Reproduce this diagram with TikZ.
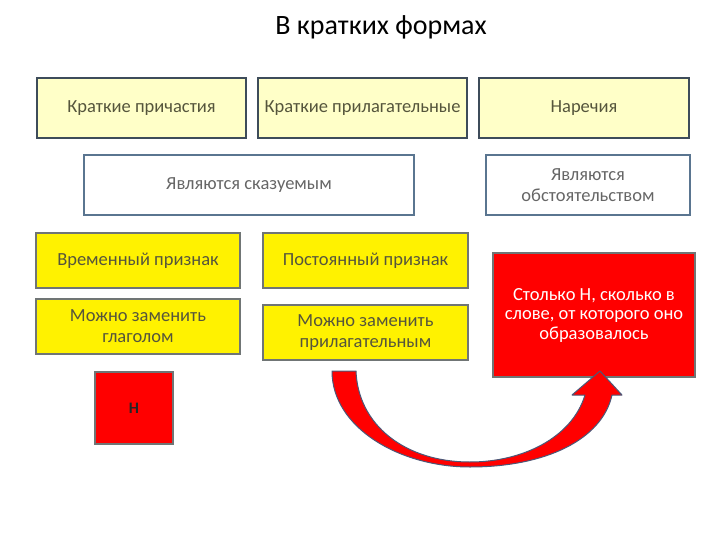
\documentclass[tikz,border=0pt]{standalone}
\usepackage{fontspec}
\setmainfont{Carlito}
\definecolor{lightyel}{HTML}{FFFFC8}
\definecolor{topedge}{HTML}{3E4C5A}
\definecolor{blueedge}{HTML}{5A7590}
\definecolor{grayedge}{HTML}{707575}
\definecolor{txtolive}{HTML}{55553C}
\definecolor{txtgray}{HTML}{666666}
\definecolor{arrowedge}{HTML}{4A5878}
\tikzset{
  topbox/.style={draw=topedge, line width=2.5pt, fill=lightyel, text=txtolive, align=center, inner sep=0pt, font=\fontsize{18.5}{21}\selectfont},
  whitebox/.style={draw=blueedge, line width=2pt, fill=white, text=txtgray, align=center, inner sep=0pt, font=\fontsize{18.5}{21}\selectfont},
  yelbox/.style={draw=grayedge, line width=2.5pt, fill=yellow, text=txtolive, align=center, inner sep=0pt, font=\fontsize{18.5}{21}\selectfont},
  redbox/.style={draw=grayedge, line width=1.5pt, fill=red, align=center, inner sep=0pt, font=\fontsize{18.5}{19.5}\selectfont},
}
\begin{document}
\begin{tikzpicture}[x=1pt,y=-1pt]
\useasboundingbox (0,0) rectangle (720,540);
\node[font=\fontsize{28}{32}\selectfont] (title) at (381,27) {В кратких формах};
\node[topbox, minimum width=209, minimum height=60] (n1) at (141.5,108) {Краткие причастия};
\node[topbox, minimum width=209, minimum height=60] (n2) at (362.5,108) {Краткие прилагательные};
\node[topbox, minimum width=210, minimum height=60] (n3) at (584,108) {Наречия};
\node[whitebox, minimum width=330, minimum height=60] (n4) at (249,185) {Являются сказуемым};
\node[whitebox, minimum width=204, minimum height=60] (n5) at (588,185) {Являются\\обстоятельством};
\node[yelbox, minimum width=204, minimum height=55] (n6) at (138,260.5) {Временный признак};
\node[yelbox, minimum width=205, minimum height=55] (n7) at (365.5,260.5) {Постоянный признак};
\node[yelbox, minimum width=204, minimum height=55] (n8) at (138,326.5) {Можно заменить\\глаголом};
\node[yelbox, minimum width=205, minimum height=55] (n9) at (365.5,332.5) {Можно заменить\\прилагательным};
\node[redbox, text=white, minimum width=202, minimum height=124] (n10) at (594,315) {Столько Н, сколько в\\слове, от которого оно\\образовалось};
\node[redbox, text=black!85, minimum width=78, minimum height=72, font=\fontsize{16}{18}\selectfont\bfseries] (n11) at (134,408) {Н};
% curved block arrow
\filldraw[fill=red, draw=arrowedge, line width=1pt, line join=round]
  (332,371) .. controls (332,428) and (400,467) .. (470,467)
  .. controls (545,467) and (602,440) .. (612,395)
  -- (622,395) -- (600,371) -- (572,395) -- (585,395)
  .. controls (572,438) and (522,462) .. (470,462)
  .. controls (405,462) and (358,425) .. (356,371) -- cycle;
\end{tikzpicture}
\end{document}
